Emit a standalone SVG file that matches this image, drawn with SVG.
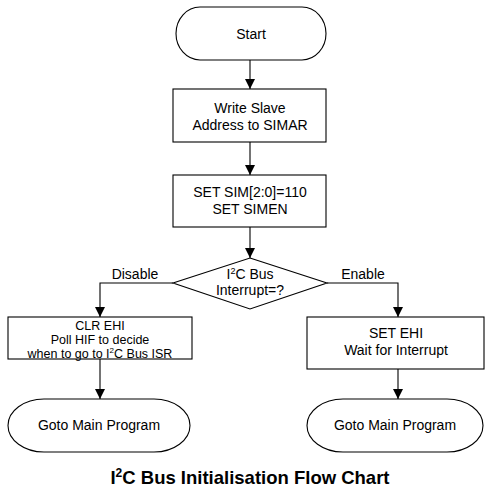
<svg xmlns="http://www.w3.org/2000/svg" width="485" height="488" viewBox="0 0 485 488">
<defs>
<marker id="ah" markerWidth="10" markerHeight="12" refX="10" refY="6" orient="auto" markerUnits="userSpaceOnUse">
<path d="M0,1 L10,6 L0,11 Z" fill="#000"/>
</marker>
<style>
.s{fill:#fff;stroke:#000;stroke-width:1.1}
.t{font-family:"Liberation Sans",Arial,sans-serif;font-size:14px;fill:#000;text-anchor:middle}
.sm{font-size:12.5px}
.c{fill:none;stroke:#000;stroke-width:1.1;marker-end:url(#ah)}
.ti{font-family:"Liberation Sans",Arial,sans-serif;font-size:18.5px;font-weight:bold;fill:#000;text-anchor:middle}
</style>
</defs>
<rect width="485" height="488" fill="#fff"/>
<g id="connectors">
<path class="c" d="M250,60 V89"/>
<path class="c" d="M250,142 V175"/>
<path class="c" d="M250,227 V258"/>
<path class="c" d="M173,283 H100 V317"/>
<path class="c" d="M327,283 H398 V317"/>
<path class="c" d="M100,359 V399"/>
<path class="c" d="M398,369 V399"/>
</g>
<g id="start">
<rect class="s" x="176" y="7" width="150" height="53" rx="24" ry="26.5"/>
<text class="t" x="251" y="39">Start</text>
</g>
<g id="write-slave">
<rect class="s" x="173" y="89" width="153" height="53"/>
<text class="t" x="250" y="113">Write Slave</text>
<text class="t" x="250" y="130">Address to SIMAR</text>
</g>
<g id="set-sim">
<rect class="s" x="173" y="175" width="153" height="52"/>
<text class="t" x="250" y="197">SET SIM[2:0]=110</text>
<text class="t" x="250" y="214">SET SIMEN</text>
</g>
<g id="decision">
<polygon class="s" points="250,258 327,283 250,309 173,283"/>
<text class="t" x="250" y="279">I<tspan font-size="9" dy="-5">2</tspan><tspan dy="5">C Bus</tspan></text>
<text class="t" x="250" y="295">Interrupt=?</text>
<text class="t" x="135" y="279">Disable</text>
<text class="t" x="363" y="279">Enable</text>
</g>
<g id="clr-ehi">
<rect class="s" x="8" y="317" width="184" height="42"/>
<text class="t sm" x="100" y="329.5">CLR EHI</text>
<text class="t sm" x="100" y="343.5">Poll HIF to decide</text>
<text class="t sm" x="100" y="357.5">when to go to I<tspan font-size="8" dy="-4.5">2</tspan><tspan dy="4.5">C Bus ISR</tspan></text>
</g>
<g id="set-ehi">
<rect class="s" x="307" y="317" width="177" height="52"/>
<text class="t" x="396" y="338">SET EHI</text>
<text class="t" x="396" y="355">Wait for Interrupt</text>
</g>
<g id="goto-left">
<rect class="s" x="8" y="399" width="182" height="53" rx="36" ry="26.5"/>
<text class="t" x="99" y="430">Goto Main Program</text>
</g>
<g id="goto-right">
<rect class="s" x="307" y="399" width="176" height="53" rx="36" ry="26.5"/>
<text class="t" x="395" y="430">Goto Main Program</text>
</g>
<text class="ti" x="250" y="484">I<tspan font-size="12" dy="-7">2</tspan><tspan dy="7">C Bus Initialisation Flow Chart</tspan></text>
</svg>
